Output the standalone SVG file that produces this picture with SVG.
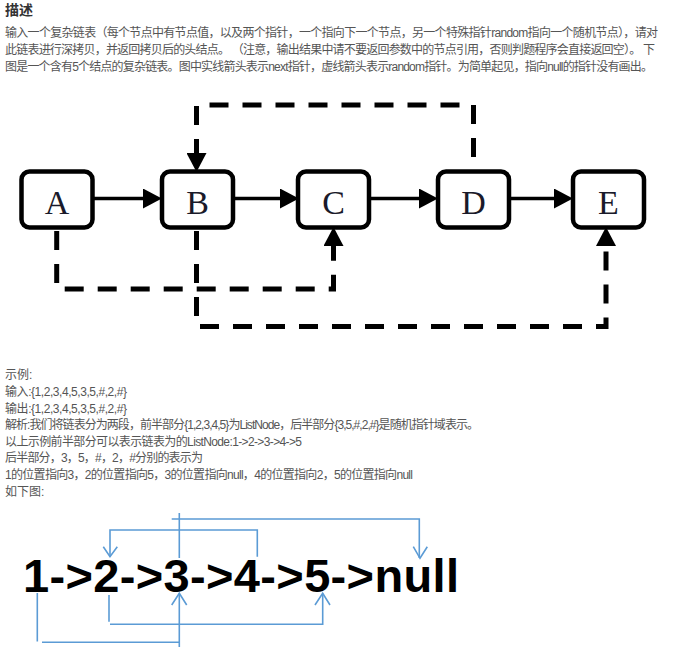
<svg xmlns="http://www.w3.org/2000/svg" width="678" height="669" viewBox="0 0 678 669">
<style>
.bg{fill:#ffffff}
.title{font-family:"Liberation Sans","Noto Sans CJK SC",sans-serif;font-size:14px;font-weight:bold;fill:#333333}
.para{font-family:"Liberation Sans","Noto Sans CJK SC",sans-serif;font-size:12px;fill:#555555}
.box{fill:#ffffff;stroke:#000000;stroke-width:4.5}
.lbl{font-family:"Liberation Serif","Times New Roman",serif;font-size:34px;fill:#1a1a2a;text-anchor:middle}
.next{fill:none;stroke:#000000;stroke-width:3.5}
.rand{fill:none;stroke:#000000;stroke-width:5;stroke-dasharray:19 14}
.big{font-family:"Liberation Sans",Arial,sans-serif;font-size:47px;font-weight:bold;fill:#000000}
.blue{fill:none;stroke:#5b9bd5;stroke-width:1.6}
</style>
<defs>
<marker id="tri" markerUnits="userSpaceOnUse" markerWidth="20" markerHeight="20" refX="0" refY="9" orient="auto" viewBox="0 0 18 18">
<path d="M0,0 L17,9 L0,18 Z" fill="#000000"/>
</marker>
</defs>
<rect class="bg" x="0" y="0" width="678" height="669"/>

<g id="description">
<text class="title" x="5" y="15">描述</text>
<text class="para" x="5" y="37" textLength="653" lengthAdjust="spacing">输入一个复杂链表（每个节点中有节点值，以及两个指针，一个指向下一个节点，另一个特殊指针random指向一个随机节点），请对</text>
<text class="para" x="5" y="54" textLength="650" lengthAdjust="spacing">此链表进行深拷贝，并返回拷贝后的头结点。 （注意，输出结果中请不要返回参数中的节点引用，否则判题程序会直接返回空）。 下</text>
<text class="para" x="5" y="71" textLength="648" lengthAdjust="spacing">图是一个含有5个结点的复杂链表。图中实线箭头表示next指针，虚线箭头表示random指针。为简单起见，指向null的指针没有画出。</text>
</g>

<g id="connectors">
<line class="next" x1="93" y1="198.5" x2="143" y2="198.5" marker-end="url(#tri)"/>
<line class="next" x1="234" y1="198.5" x2="280" y2="198.5" marker-end="url(#tri)"/>
<line class="next" x1="370" y1="198.5" x2="419" y2="198.5" marker-end="url(#tri)"/>
<line class="next" x1="511" y1="198.5" x2="554" y2="198.5" marker-end="url(#tri)"/>
<path class="rand" d="M473.5,157 V105 H196.5 V153" marker-end="url(#tri)"/>
<path class="rand" d="M56.7,231 V289 H333.5 V246" marker-end="url(#tri)"/>
<path class="rand" d="M196.5,231 V326.5 H606 V246" marker-end="url(#tri)"/>
</g>

<g id="nodeA"><rect class="box" x="21.5" y="171.5" width="71" height="56" rx="8"/><text class="lbl" x="57" y="214">A</text></g>
<g id="nodeB"><rect class="box" x="162" y="171.5" width="71" height="56" rx="8"/><text class="lbl" x="197.5" y="214">B</text></g>
<g id="nodeC"><rect class="box" x="298" y="171.5" width="71" height="56" rx="8"/><text class="lbl" x="333.5" y="214">C</text></g>
<g id="nodeD"><rect class="box" x="438" y="171.5" width="71" height="56" rx="8"/><text class="lbl" x="473.5" y="214">D</text></g>
<g id="nodeE"><rect class="box" x="573" y="171.5" width="71" height="56" rx="8"/><text class="lbl" x="608.5" y="214">E</text></g>

<g id="example">
<text class="para" x="5" y="379">示例:</text>
<text class="para" x="5" y="396" textLength="122" lengthAdjust="spacing">输入:{1,2,3,4,5,3,5,#,2,#}</text>
<text class="para" x="5" y="412.5" textLength="122" lengthAdjust="spacing">输出:{1,2,3,4,5,3,5,#,2,#}</text>
<text class="para" x="5" y="429" textLength="474" lengthAdjust="spacing">解析:我们将链表分为两段，前半部分{1,2,3,4,5}为ListNode，后半部分{3,5,#,2,#}是随机指针域表示。</text>
<text class="para" x="5" y="446" textLength="297" lengthAdjust="spacing">以上示例前半部分可以表示链表为的ListNode:1-&gt;2-&gt;3-&gt;4-&gt;5</text>
<text class="para" x="5" y="462" textLength="198" lengthAdjust="spacing">后半部分，3，5，#，2，#分别的表示为</text>
<text class="para" x="5" y="479" textLength="408" lengthAdjust="spacing">1的位置指向3，2的位置指向5，3的位置指向null，4的位置指向2，5的位置指向null</text>
<text class="para" x="5" y="495.5">如下图:</text>
</g>

<g id="listFigure">
<text class="big" x="23" y="592" textLength="436" lengthAdjust="spacing">1-&gt;2-&gt;3-&gt;4-&gt;5-&gt;null</text>
</g>

<g id="listConnectors">
<path class="blue" d="M37.3,593 V641.5"/>
<path class="blue" d="M42,642.3 H180"/>
<path class="blue" d="M179.3,647 V593.5"/>
<polyline class="blue" points="171.7,605 179.3,593.3 186.7,605"/>
<path class="blue" d="M109,595 V621.7"/>
<path class="blue" d="M110,624.3 H322.7 V593.5"/>
<polyline class="blue" points="315,605 322.7,593.3 330,605"/>
<path class="blue" d="M179.3,513 V558"/>
<path class="blue" d="M171.7,519 H419.3 V558"/>
<polyline class="blue" points="413.3,546.7 420,558.3 427.3,546.7"/>
<path class="blue" d="M257.3,556.7 V530 H110 V556.7"/>
<polyline class="blue" points="103.3,546.7 110,556.7 117.3,546.7"/>
</g>
</svg>
